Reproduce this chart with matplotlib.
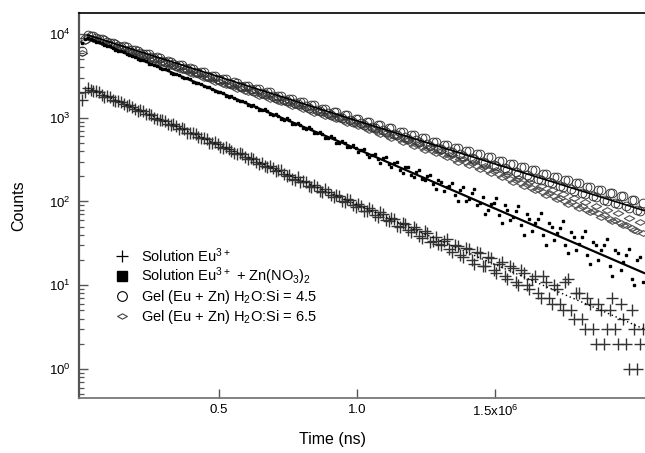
import matplotlib
matplotlib.use("Agg")
import matplotlib.pyplot as plt
from matplotlib.lines import Line2D
from matplotlib.path import Path

plt.rcParams["font.family"] = ["Liberation Sans", "DejaVu Sans"]
plt.rcParams["mathtext.default"] = "regular"

# time in units of 1e6 ns, two interleaved sets of channels
time_a = [0.005, 0.025, 0.045, 0.065, 0.085, 0.105, 0.125, 0.145, 0.165, 0.185,
          0.205, 0.225, 0.245, 0.265, 0.285, 0.305, 0.325, 0.345, 0.365, 0.385,
          0.405, 0.425, 0.445, 0.465, 0.485, 0.505, 0.525, 0.545, 0.565, 0.585,
          0.605, 0.625, 0.645, 0.665, 0.685, 0.705, 0.725, 0.745, 0.765, 0.785,
          0.805, 0.825, 0.845, 0.865, 0.885, 0.905, 0.925, 0.945, 0.965, 0.985,
          1.005, 1.025, 1.045, 1.065, 1.085, 1.105, 1.125, 1.145, 1.165, 1.185,
          1.205, 1.225, 1.245, 1.265, 1.285, 1.305, 1.325, 1.345, 1.365, 1.385,
          1.405, 1.425, 1.445, 1.465, 1.485, 1.505, 1.525, 1.545, 1.565, 1.585,
          1.605, 1.625, 1.645, 1.665, 1.685, 1.705, 1.725, 1.745, 1.765, 1.785,
          1.805, 1.825, 1.845, 1.865, 1.885, 1.905, 1.925, 1.945, 1.965, 1.985,
          2.005, 2.025]
time_b = [0.015, 0.035, 0.055, 0.075, 0.095, 0.115, 0.135, 0.155, 0.175, 0.195,
          0.215, 0.235, 0.255, 0.275, 0.295, 0.315, 0.335, 0.355, 0.375, 0.395,
          0.415, 0.435, 0.455, 0.475, 0.495, 0.515, 0.535, 0.555, 0.575, 0.595,
          0.615, 0.635, 0.655, 0.675, 0.695, 0.715, 0.735, 0.755, 0.775, 0.795,
          0.815, 0.835, 0.855, 0.875, 0.895, 0.915, 0.935, 0.955, 0.975, 0.995,
          1.015, 1.035, 1.055, 1.075, 1.095, 1.115, 1.135, 1.155, 1.175, 1.195,
          1.215, 1.235, 1.255, 1.275, 1.295, 1.315, 1.335, 1.355, 1.375, 1.395,
          1.415, 1.435, 1.455, 1.475, 1.495, 1.515, 1.535, 1.555, 1.575, 1.595,
          1.615, 1.635, 1.655, 1.675, 1.695, 1.715, 1.735, 1.755, 1.775, 1.795,
          1.815, 1.835, 1.855, 1.875, 1.895, 1.915, 1.935, 1.955, 1.975, 1.995,
          2.015, 2.035]

eu_solution_a = [1650, 2290, 2060, 2010, 1790, 1760, 1590, 1555, 1380, 1360,
                 1210, 1190, 1120, 990, 935, 920, 815, 800, 760, 665,
                 660, 590, 580, 505, 510, 445, 450, 398, 365, 372,
                 318, 325, 280, 266, 262, 228, 236, 203, 185, 194,
                 176, 152, 156, 133, 140, 118, 121, 101, 108, 90,
                 93, 78, 84, 68, 74, 60, 63, 51, 56, 46,
                 49, 39, 44, 33, 38, 30, 36, 25, 29, 22,
                 27, 18, 24, 17, 21, 14, 19, 12, 16, 10,
                 14, 9, 13, 7, 11, 6, 9, 5, 12, 4,
                 8, 3, 6, 2, 5, 3, 7, 2, 4, 1,
                 3, 2]
eu_solution_b = [2050, 2150, 2090, 1880, 1820, 1650, 1600, 1440, 1400, 1260,
                 1230, 1100, 1080, 965, 945, 850, 830, 740, 725, 650,
                 635, 570, 555, 500, 490, 438, 428, 380, 375, 335,
                 330, 292, 288, 255, 252, 240, 210, 208, 182, 172,
                 170, 148, 150, 130, 131, 113, 116, 98, 103, 87,
                 89, 76, 79, 66, 70, 58, 61, 50, 54, 43,
                 47, 37, 42, 34, 31, 34, 27, 30, 23, 28,
                 20, 25, 17, 22, 15, 18, 13, 17, 11, 15,
                 10, 12, 8, 13, 7, 10, 6, 11, 5, 8,
                 4, 7, 3, 6, 2, 5, 3, 6, 2, 5,
                 1, 3]

eu_zn_a = [7800, 9000, 8380, 8050, 7390, 7100, 6490, 6240, 5720, 5530,
           5060, 4890, 4440, 4310, 3930, 3800, 3450, 3370, 3040, 2980,
           2690, 2610, 2370, 2320, 2080, 2050, 1840, 1810, 1610, 1600,
           1420, 1410, 1250, 1260, 1100, 1110, 965, 980, 850, 870,
           745, 770, 655, 680, 575, 600, 505, 530, 445, 470,
           395, 420, 340, 365, 290, 335, 255, 300, 220, 255,
           195, 235, 180, 205, 140, 170, 150, 165, 100, 150,
           108, 140, 96, 70, 92, 110, 55, 80, 66, 88,
           40, 62, 55, 72, 30, 50, 42, 58, 24, 38,
           31, 45, 18, 30, 26, 36, 13, 24, 19, 27,
           10, 22]
eu_zn_b = [8600, 8800, 8120, 7760, 7160, 6850, 6310, 6050, 5570, 5340,
           4910, 4710, 4330, 4160, 3820, 3670, 3370, 3240, 2970, 2860,
           2620, 2520, 2300, 2230, 2030, 1970, 1790, 1740, 1580, 1530,
           1390, 1350, 1225, 1200, 1080, 1050, 950, 930, 840, 825,
           740, 725, 650, 640, 575, 565, 505, 500, 445, 440,
           415, 370, 362, 320, 330, 280, 290, 240, 255, 205,
           225, 185, 200, 160, 178, 135, 155, 120, 138, 102,
           125, 90, 112, 80, 96, 68, 90, 60, 78, 52,
           70, 45, 62, 40, 55, 35, 48, 30, 43, 26,
           38, 23, 33, 20, 30, 17, 26, 15, 23, 12,
           20, 11]

gel_45_a = [6300, 9700, 9350, 8600, 8450, 7800, 7680, 7000, 6950, 6350,
            6300, 5700, 5700, 5150, 5180, 4650, 4680, 4200, 4260, 3780,
            3850, 3400, 3480, 3080, 3150, 2790, 2880, 2540, 2630, 2310,
            2400, 2100, 2200, 1910, 2010, 1740, 1830, 1580, 1680, 1440,
            1530, 1310, 1400, 1190, 1280, 1090, 1170, 990, 1070, 900,
            975, 820, 890, 745, 815, 680, 745, 615, 680, 560,
            620, 510, 570, 465, 520, 420, 475, 385, 435, 350,
            400, 320, 365, 290, 335, 265, 305, 240, 280, 215,
            255, 198, 235, 178, 215, 165, 198, 148, 180, 135,
            165, 122, 150, 112, 138, 100, 125, 92, 115, 84,
            105, 78]
gel_45_b = [8800, 9550, 8870, 8680, 8000, 7860, 7220, 7100, 6520, 6420,
            5890, 5810, 5320, 5250, 4800, 4760, 4330, 4300, 3910, 3890,
            3530, 3510, 3190, 3180, 2890, 2900, 2630, 2650, 2390, 2420,
            2180, 2210, 1990, 2020, 1810, 1840, 1650, 1680, 1500, 1540,
            1370, 1400, 1250, 1280, 1135, 1170, 1030, 1070, 940, 975,
            860, 890, 780, 815, 710, 745, 645, 680, 585, 620,
            535, 570, 485, 520, 440, 475, 400, 435, 365, 400,
            330, 365, 300, 335, 272, 305, 248, 280, 225, 258,
            205, 236, 185, 215, 170, 198, 152, 180, 140, 165,
            126, 150, 116, 138, 105, 126, 96, 115, 88, 105,
            80, 96]

gel_65_a = [6000, 9200, 8600, 8400, 7750, 7580, 6950, 6850, 6250, 6180,
            5620, 5560, 5060, 5010, 4550, 4520, 4090, 4070, 3680, 3670,
            3310, 3300, 2980, 2970, 2680, 2700, 2440, 2460, 2220, 2250,
            2020, 2060, 1840, 1870, 1680, 1710, 1530, 1560, 1390, 1420,
            1270, 1300, 1150, 1185, 1050, 1080, 955, 985, 870, 900,
            790, 815, 710, 740, 640, 665, 575, 600, 515, 545,
            465, 490, 415, 445, 375, 400, 335, 360, 300, 325,
            270, 295, 245, 265, 218, 240, 195, 215, 172, 190,
            152, 172, 136, 152, 120, 138, 106, 122, 94, 110,
            84, 98, 74, 88, 65, 80, 58, 72, 52, 64,
            46, 57]
gel_65_b = [8300, 8870, 8600, 7990, 7740, 7190, 6980, 6470, 6290, 5830,
            5660, 5250, 5100, 4730, 4590, 4260, 4130, 3830, 3720, 3450,
            3350, 3110, 3020, 2800, 2730, 2540, 2490, 2320, 2270, 2110,
            2070, 1930, 1890, 1760, 1720, 1600, 1570, 1460, 1430, 1330,
            1305, 1215, 1190, 1105, 1085, 1005, 990, 915, 905, 835,
            825, 755, 745, 680, 670, 610, 605, 550, 545, 495,
            490, 445, 440, 402, 398, 360, 355, 325, 320, 292,
            288, 262, 258, 236, 232, 212, 205, 186, 182, 165,
            160, 146, 140, 130, 125, 115, 110, 102, 98, 90,
            88, 80, 76, 72, 68, 62, 60, 56, 52, 48,
            45, 42]

# fitted decays, read at a few times
fit_time = [0.025, 1.0, 2.04]
fit_zn = [9000, 424, 14]
fit_gel45 = [9700, 920, 78]
fit_eu_time = [0.025, 2.04]
fit_eu = [2260, 3.0]

labels = [r"Solution Eu$^{3+}$",
          r"Solution Eu$^{3+}$ + Zn(NO$_3$)$_2$",
          r"Gel (Eu + Zn) H$_2$O:Si = 4.5",
          r"Gel (Eu + Zn) H$_2$O:Si = 6.5"]

ns = 1e6
t = [v * ns for v in time_a + time_b]
eu_solution = eu_solution_a + eu_solution_b
eu_zn = eu_zn_a + eu_zn_b
gel_45 = gel_45_a + gel_45_b
gel_65 = gel_65_a + gel_65_b

flat_diamond = Path([(-1, 0), (0, 0.55), (1, 0), (0, -0.55), (-1, 0)],
                    [Path.MOVETO, Path.LINETO, Path.LINETO, Path.LINETO, Path.CLOSEPOLY])

fig = plt.figure(figsize=(6.45, 4.53), dpi=100)
ax = fig.add_axes([79 / 645, 55 / 453, 579 / 645, 385 / 453])

ax.plot(t, gel_65, ls="none", marker=flat_diamond, ms=7.5, mfc="none",
        mec="#555555", mew=0.8)
ax.plot(t, gel_45, ls="none", marker="o", ms=6.3, mfc="none",
        mec="#333333", mew=0.65)
ax.plot([v * ns for v in fit_time], fit_gel45, color="black", lw=1.2)
ax.plot(t, eu_zn, ls="none", marker="s", ms=1.9, color="black")
ax.plot([v * ns for v in fit_time], fit_zn, color="black", lw=1.6)
ax.plot(t, eu_solution, ls="none", marker="+", ms=8, mew=1.0, color="#333333")
ax.plot([v * ns for v in fit_eu_time], fit_eu, color="black", lw=1.0, ls=(0, (1, 2)))

ax.set_yscale("log")
ax.set_xlim(-0.0072 * ns, 2.0906 * ns)
ax.set_ylim(0.45, 17800)

ax.set_xticks([0.5 * ns, 1.0 * ns, 1.5 * ns])
ax.set_xticklabels(["0.5", "1.0", r"1.5x10$^6$"])
ax.tick_params(axis="both", which="major", direction="in", length=6.5,
               width=1.0, color="#555555", labelsize=9.5, pad=4)
ax.tick_params(axis="y", which="minor", direction="in", length=3.5,
               width=0.9, color="#555555")
ax.tick_params(axis="y", which="major", pad=6)

ax.spines["left"].set_linewidth(1.6)
ax.spines["left"].set_color("#555555")
ax.spines["bottom"].set_linewidth(1.3)
ax.spines["bottom"].set_color("#777777")
ax.spines["top"].set_linewidth(1.2)
ax.spines["top"].set_color("black")
ax.spines["right"].set_visible(False)

ax.set_xlabel("Time (ns)", fontsize=11.5)
ax.xaxis.set_label_coords(0.437, -0.088)
ax.set_ylabel("Counts", fontsize=11.5, labelpad=16)

handles = [
    Line2D([], [], ls="none", marker="+", ms=8, mew=0.9, color="black"),
    Line2D([], [], ls="none", marker="s", ms=7, color="black"),
    Line2D([], [], ls="none", marker="o", ms=7, mfc="none", mec="black", mew=0.8),
    Line2D([], [], ls="none", marker=flat_diamond, ms=7, mfc="none", mec="#444444", mew=0.8),
]
ax.legend(handles, labels, loc="upper left", bbox_to_anchor=(0.06, 0.395),
          frameon=False, fontsize=10.5, handlelength=1.2, handletextpad=0.7,
          labelspacing=0.08, borderpad=0, borderaxespad=0)

fig.savefig("out.png", dpi=100)
